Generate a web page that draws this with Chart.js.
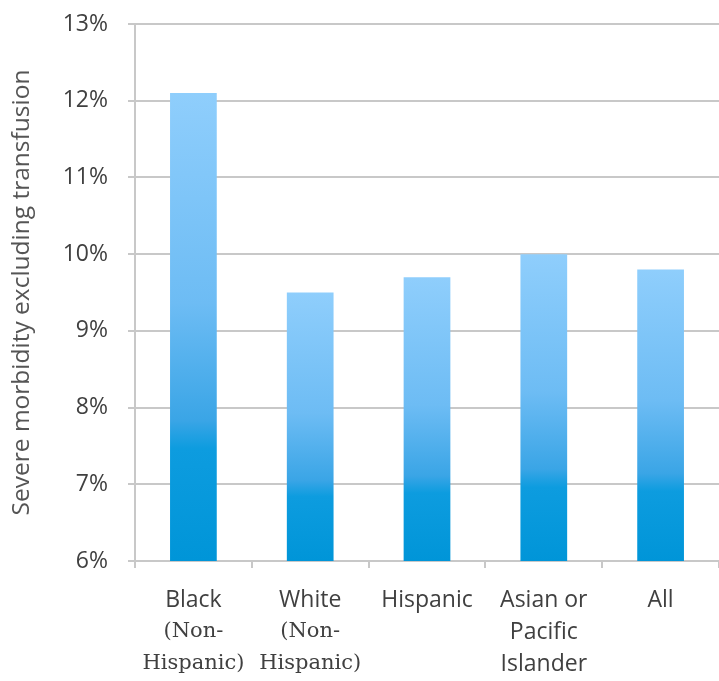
<!DOCTYPE html>
<html>
<head>
<meta charset="utf-8">
<script src="https://cdn.jsdelivr.net/npm/chart.js@4/dist/chart.umd.min.js"></script>
<style>
  html, body { margin: 0; padding: 0; background: #fff; }
  #wrap { width: 719px; height: 681px; }
</style>
</head>
<body>
<div id="wrap"><canvas id="morbidityChart"></canvas></div>
<script>
// Severe morbidity (excluding transfusion) by race / ethnicity
const groups = [
  ['Black', '(Non-', 'Hispanic)'],
  ['White', '(Non-', 'Hispanic)'],
  ['Hispanic'],
  ['Asian or', 'Pacific', 'Islander'],
  ['All']
];
const morbidityPct = [12.1, 9.5, 9.7, 10.0, 9.8];
const yMin = 6;
const yMax = 13;

const sansFont = '"Open Sans", sans-serif';
const textColor = '#404040';
const gridColor = '#c8c8c8';

// the "(Non-Hispanic)" qualifier lines are set in a serif face
const serifRows = {0: [1, 2], 1: [1, 2]};

// light blue at the top of each bar fading to a deeper blue at its base
function barGradient(context) {
  const chart = context.chart;
  if (!chart.chartArea) return '#4aa9e8';
  const yScale = chart.scales.y;
  const top = yScale.getPixelForValue(morbidityPct[context.dataIndex]);
  const bottom = yScale.getPixelForValue(yMin);
  const g = chart.ctx.createLinearGradient(0, top, 0, bottom);
  g.addColorStop(0, '#8fcefc');
  g.addColorStop(0.45, '#6dbcf4');
  g.addColorStop(0.7, '#3aa5e6');
  g.addColorStop(0.76, '#0d9cdf');
  g.addColorStop(1, '#0095d8');
  return g;
}

// draws the multi-line category labels under the x axis
const categoryLabels = {
  id: 'categoryLabels',
  afterDraw(chart) {
    const xScale = chart.scales.x;
    const c = chart.ctx;
    c.save();
    c.fillStyle = textColor;
    c.textAlign = 'center';
    c.textBaseline = 'middle';
    groups.forEach((lines, i) => {
      const x = xScale.getPixelForValue(i);
      lines.forEach((line, row) => {
        const serif = (serifRows[i] || []).includes(row);
        c.font = serif ? '21px "DejaVu Serif", serif' : '23px ' + sansFont;
        c.fillText(line, x, xScale.top + 39 + row * 32);
      });
    });
    c.restore();
  }
};

const ctx = document.getElementById('morbidityChart').getContext('2d');
new Chart(ctx, {
  type: 'bar',
  data: {
    labels: groups.map(g => g.join(' ')),
    datasets: [{
      data: morbidityPct,
      backgroundColor: barGradient,
      borderWidth: 0,
      barPercentage: 0.4,
      categoryPercentage: 1.0
    }]
  },
  options: {
    responsive: true,
    maintainAspectRatio: false,
    animation: false,
    layout: {padding: {top: 24, right: 0, bottom: 0, left: 0}},
    plugins: {legend: {display: false}, tooltip: {enabled: false}},
    scales: {
      x: {
        grid: {
          drawOnChartArea: false,
          drawTicks: true,
          tickLength: 7,
          color: gridColor,
          lineWidth: 2
        },
        border: {display: true, color: gridColor, width: 2},
        ticks: {display: false},
        afterFit: (scale) => { scale.height = 120; }
      },
      y: {
        min: yMin,
        max: yMax,
        grid: {color: gridColor, lineWidth: 2, tickLength: 7},
        border: {display: true, color: gridColor, width: 2},
        ticks: {
          stepSize: 1,
          color: textColor,
          font: {family: sansFont, size: 23},
          padding: 20,
          callback: (v) => v + '%'
        },
        title: {
          display: true,
          text: 'Severe morbidity excluding transfusion',
          color: '#555555',
          font: {family: sansFont, size: 24.5, lineHeight: 1.2},
          padding: {top: 7, bottom: 0}
        },
        afterFit: (scale) => {
          scale.width = 135;
          // the layout padding alone sets where the plot starts
          scale.paddingTop = 0;
          scale.paddingBottom = 0;
        }
      }
    }
  },
  plugins: [categoryLabels]
});
</script>
</body>
</html>
